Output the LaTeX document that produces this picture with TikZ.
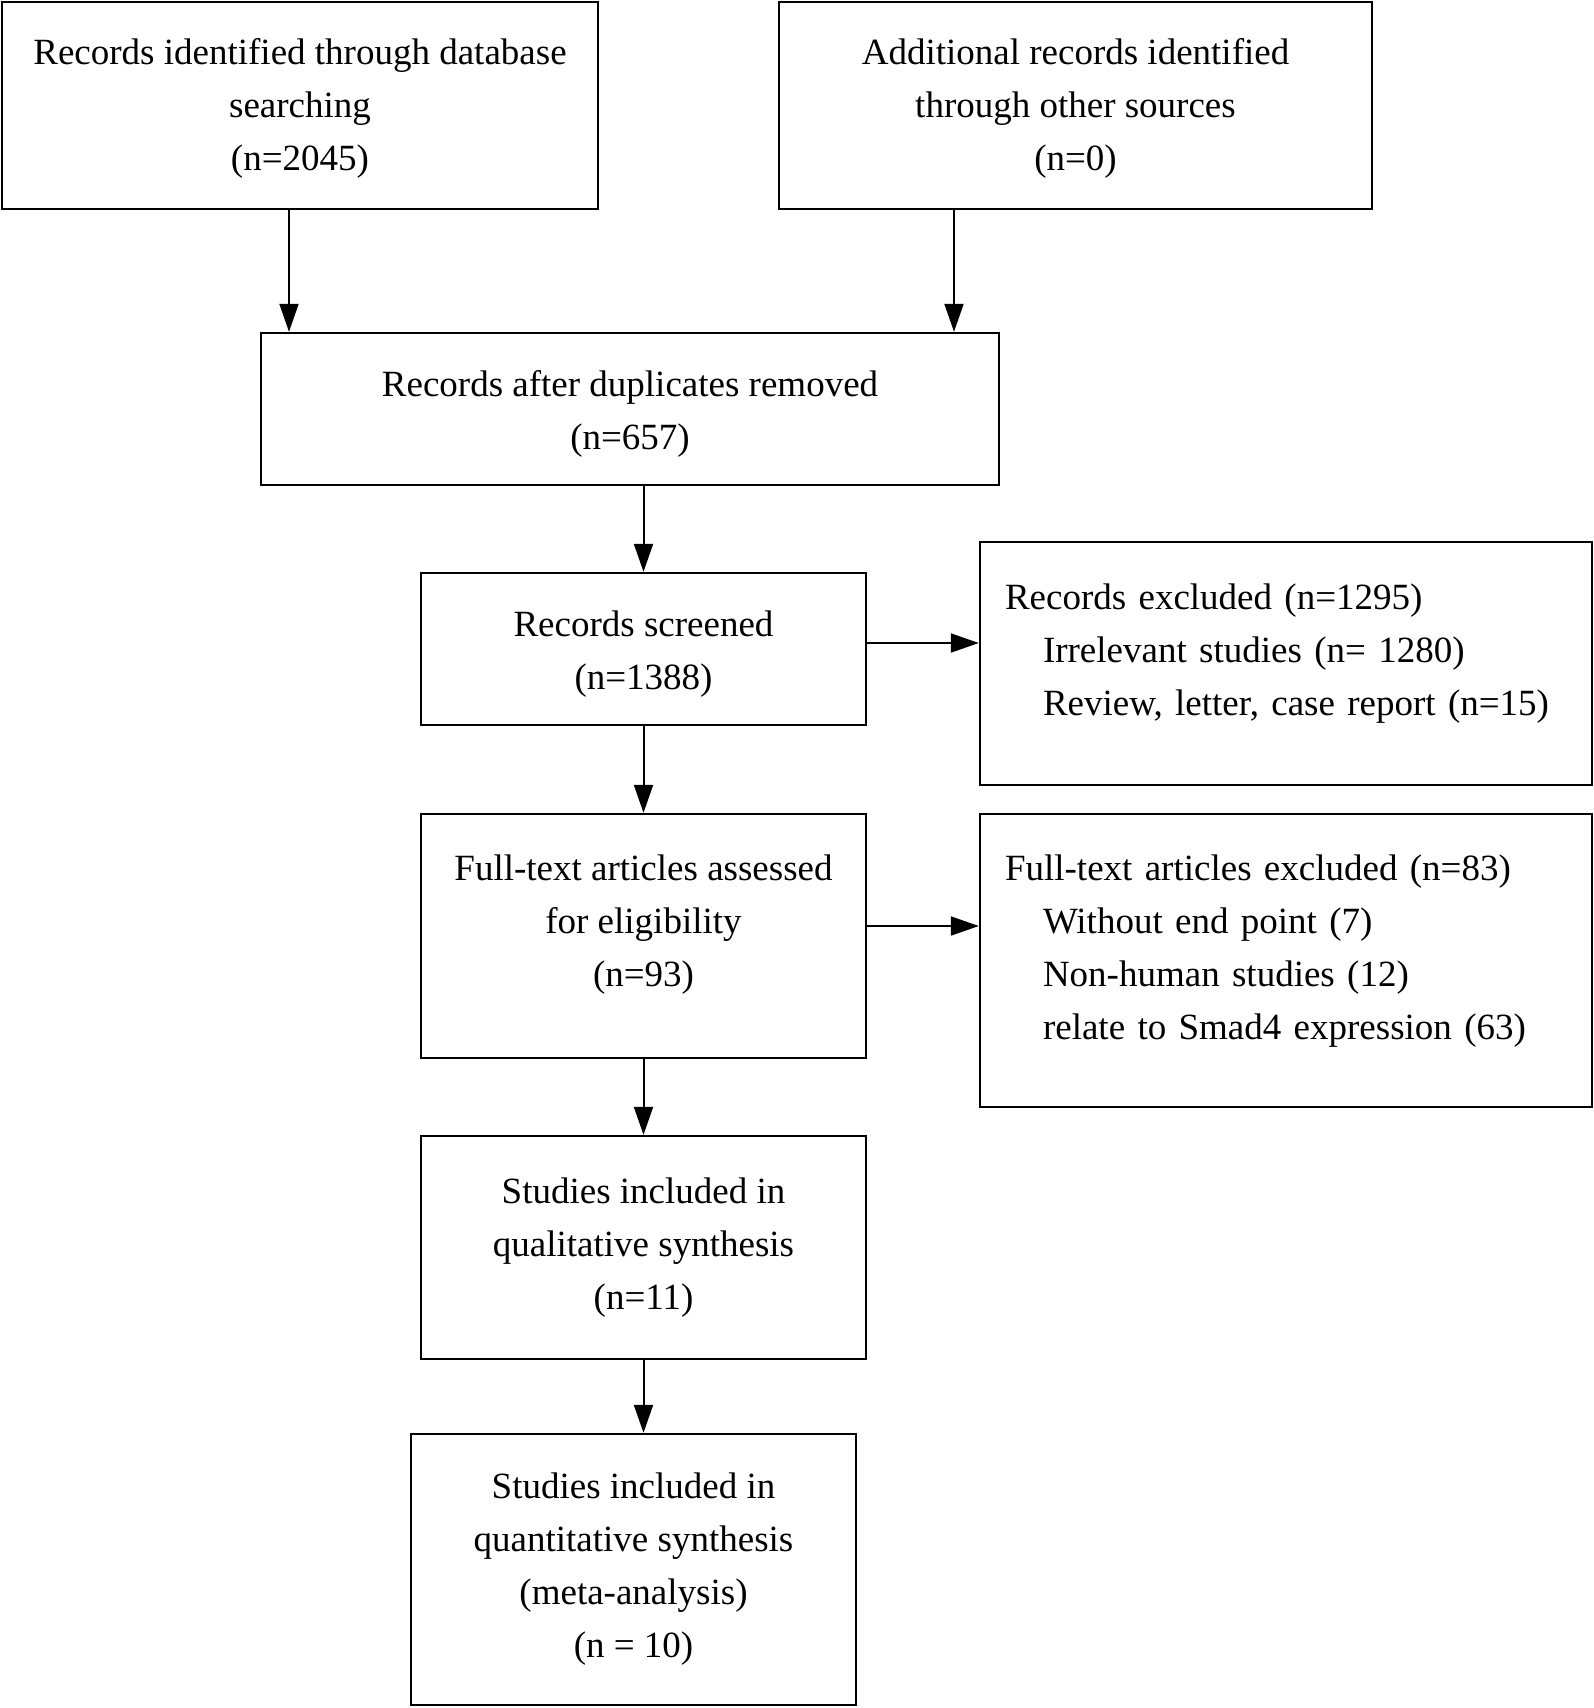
\documentclass[tikz,border=0pt]{standalone}
\usepackage{fontspec}
\setmainfont{Liberation Serif}
\usetikzlibrary{arrows.meta}

\begin{document}
\begin{tikzpicture}[
    x=1pt, y=-1pt,
    font=\fontsize{37}{53}\selectfont,
    box/.style={rectangle, draw=black, line width=2.4pt, align=center, inner sep=0pt},
    excl/.style={rectangle, draw=black, line width=2.4pt, align=left, inner xsep=25pt, inner ysep=0pt, text width=562pt},
    arrow/.style={-{Triangle[length=28pt, width=19pt]}, line width=2pt}
]
    \useasboundingbox (0,0) rectangle (1594,1708);

    % Identification
    \node[box, minimum width=596pt, minimum height=207pt, text height=138pt, text depth=8pt] (db) at (300,105.5) {Records identified through database\\searching\\(n=2045)};
    \node[box, minimum width=593pt, minimum height=207pt, text height=138pt, text depth=8pt] (other) at (1075.5,105.5) {Additional records identified\\through other sources\\(n=0)};

    % Screening
    \node[box, minimum width=738pt, minimum height=152pt, text height=88pt, text depth=8pt] (dup) at (630,409) {Records after duplicates removed\\(n=657)};
    \node[box, minimum width=445pt, minimum height=152pt, text height=88pt, text depth=8pt] (screen) at (643.5,649) {Records screened\\(n=1388)};
    \node[excl, minimum height=243pt, text depth=133pt] (excl1) at (1286,663.5) {Records excluded (n=1295)\\\hspace*{38pt}Irrelevant studies (n= 1280)\\\hspace*{38pt}Review, letter, case report (n=15)};

    % Eligibility
    \node[box, minimum width=445pt, minimum height=244pt, text depth=31pt] (full) at (643.5,936) {Full-text articles assessed\\for eligibility\\(n=93)};
    \node[excl, minimum height=293pt, text depth=186pt] (excl2) at (1286,960.5) {Full-text articles excluded (n=83)\\\hspace*{38pt}Without end point (7)\\\hspace*{38pt}Non-human studies (12)\\\hspace*{38pt}relate to Smad4 expression (63)};

    % Included
    \node[box, minimum width=445pt, minimum height=223pt] (qual) at (643.5,1247.5) {Studies included in\\qualitative synthesis\\(n=11)};
    \node[box, minimum width=445pt, minimum height=271pt] (quant) at (633.5,1569.5) {Studies included in\\quantitative synthesis\\(meta-analysis)\\(n = 10)};

    % Arrows
    \draw[arrow] ([xshift=-11pt]db.south) -- ([xshift=-11pt]db.south |- dup.north);
    \draw[arrow] ([xshift=-121.5pt]other.south) -- ([xshift=-121.5pt]other.south |- dup.north);
    \draw[arrow] (screen.north |- dup.south) -- (screen.north);
    \draw[arrow] ([yshift=6pt]screen.east) -- ([yshift=6pt]screen.east -| excl1.west);
    \draw[arrow] (screen.south) -- (full.north);
    \draw[arrow] ([yshift=10pt]full.east) -- ([yshift=10pt]full.east -| excl2.west);
    \draw[arrow] (full.south) -- (qual.north);
    \draw[arrow] (qual.south) -- (qual.south |- quant.north);

\end{tikzpicture}
\end{document}
